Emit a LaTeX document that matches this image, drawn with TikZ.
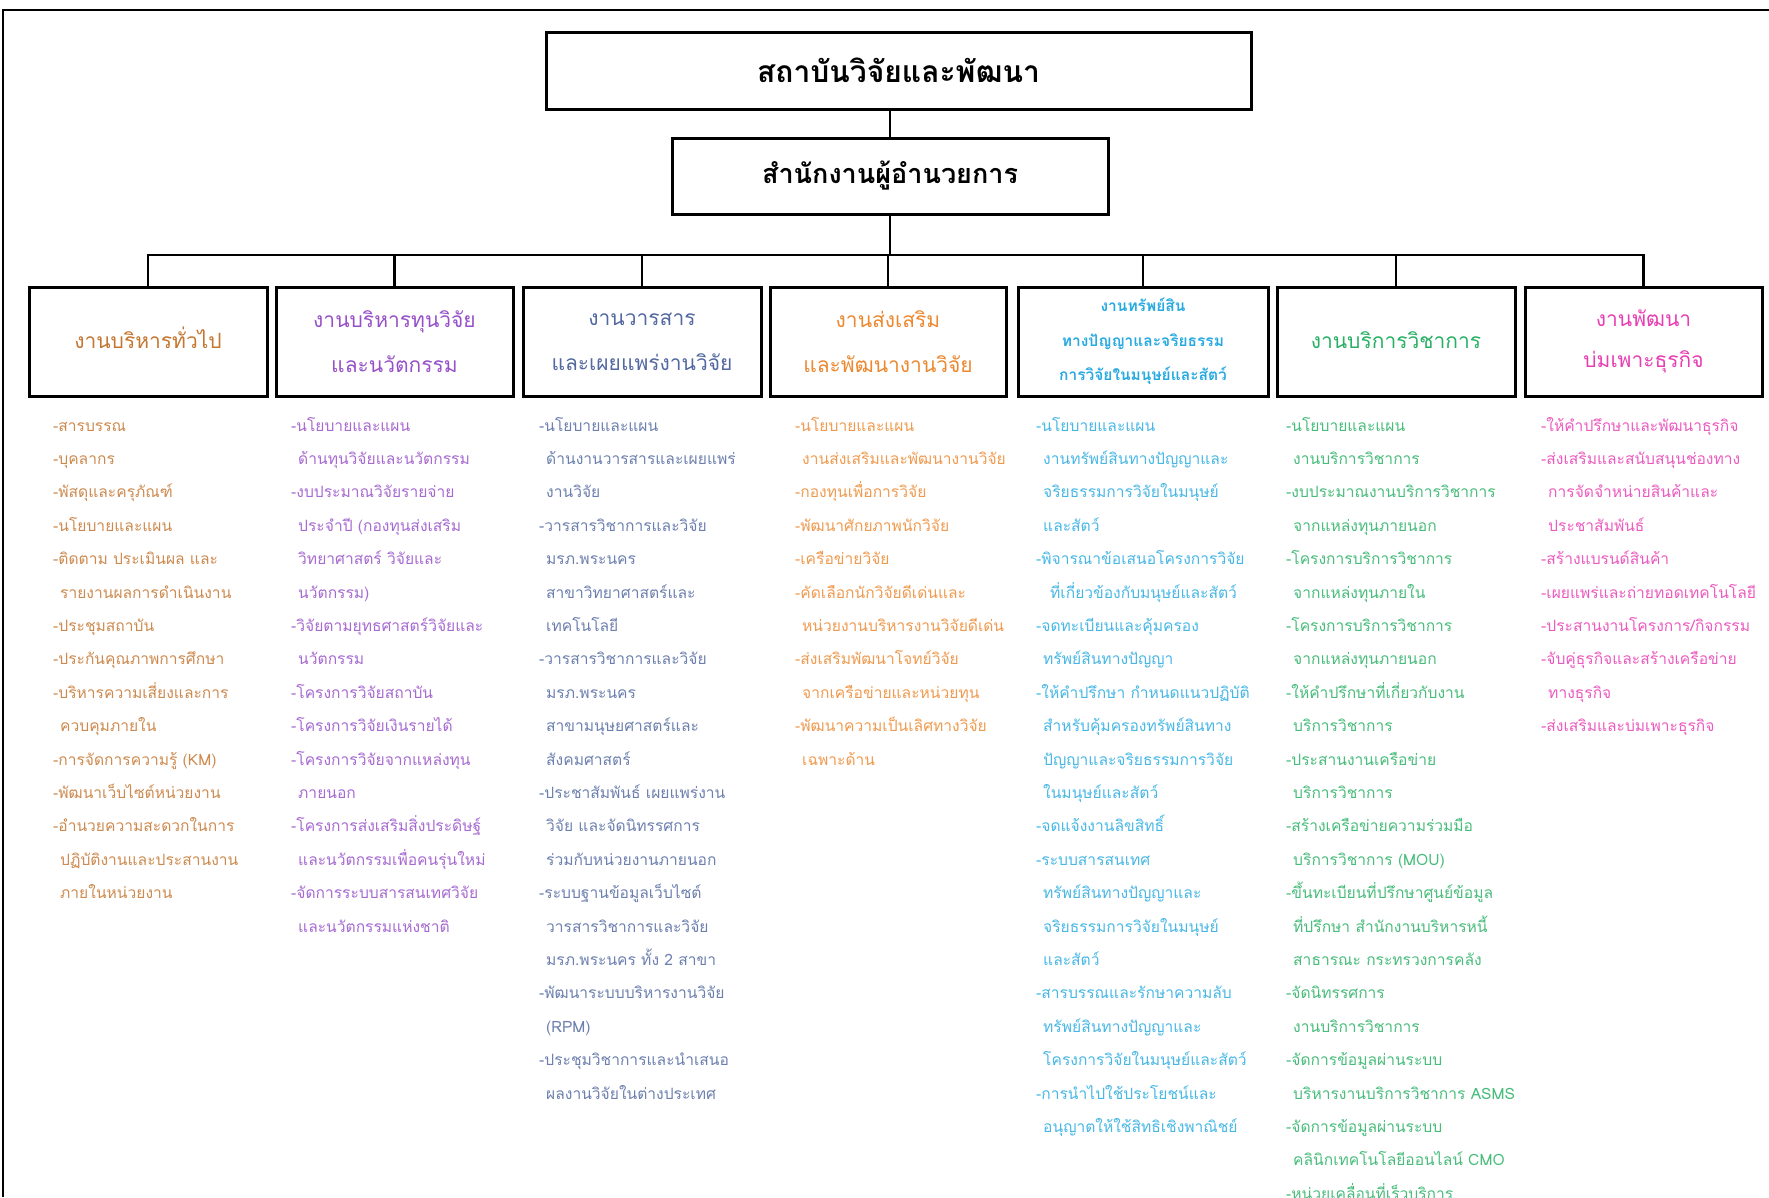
\documentclass[tikz,border=0pt]{standalone}
\usepackage{fontspec}
\setmainfont[Script=Thai]{Loma}
\definecolor{cA}{RGB}{196,118,48}
\definecolor{cB}{RGB}{150,80,200}
\definecolor{cC}{RGB}{82,104,160}
\definecolor{cD}{RGB}{236,136,48}
\definecolor{cE}{RGB}{40,170,225}
\definecolor{cF}{RGB}{40,176,100}
\definecolor{cG}{RGB}{232,62,180}
\newcommand\ind{\hspace*{7pt}}
\newcommand\itemcol[4]{%
  \foreach \t [count=\i] in {#4}
    \node[itm, text=#3] (#1-\i) at (#2, {431+(\i-1)*33.4}) {\t};}
\tikzset{
  bigbox/.style={draw=black, line width=3pt, inner sep=0pt, align=center},
  headbox/.style={draw=black, line width=3pt, inner sep=0pt, align=center,
    minimum height=109, font=\fontsize{21}{45}\selectfont},
  oneline/.style={text height=13, text depth=0},
  conn/.style={draw=black, line width=2.6pt},
  itm/.style={anchor=base west, inner sep=0pt, font=\fontsize{15.6}{20}\selectfont}
}
\begin{document}
\begin{tikzpicture}[x=1pt,y=-1pt]
\useasboundingbox (0,0) rectangle (1769,1197);
\draw[line width=2.5pt] (3,1197) -- (3,10) -- (1769,10);

\node[bigbox, minimum width=705, minimum height=77, font=\fontsize{30}{36}\selectfont\bfseries] (top) at (898.5,70.5) {สถาบันวิจัยและพัฒนา};
\node[bigbox, minimum width=436, minimum height=76, font=\fontsize{27}{32}\selectfont\bfseries] (office) at (890,176) {สำนักงานผู้อำนวยการ};

\node[headbox, oneline, minimum width=238, text=cA] (h1) at (148,341.5) {งานบริหารทั่วไป};
\node[headbox, minimum width=237, text=cB] (h2) at (394.5,341.5) {งานบริหารทุนวิจัย\\และนวัตกรรม};
\node[headbox, minimum width=238, text=cC] (h3) at (642,341.5) {งานวารสาร\\และเผยแพร่งานวิจัย};
\node[headbox, minimum width=236, text=cD] (h4) at (888,341.5) {งานส่งเสริม\\และพัฒนางานวิจัย};
\node[headbox, minimum width=250, text=cE, font=\fontsize{15.5}{34.5}\selectfont\bfseries] (h5) at (1143,341.5) {งานทรัพย์สิน\\ทางปัญญาและจริยธรรม\\การวิจัยในมนุษย์และสัตว์};
\node[headbox, oneline, minimum width=238, text=cF] (h6) at (1396,341.5) {งานบริการวิชาการ};
\node[headbox, minimum width=237, text=cG, font=\fontsize{21}{41}\selectfont] (h7) at (1643.5,341.5) {งานพัฒนา\\บ่มเพาะธุรกิจ};

\coordinate (bar) at (0,255);
\draw[conn] (top.south -| office.north) -- (office.north);
\draw[conn] (office.south) -- (office.south |- bar);
\draw[conn] (h1.north) |- (h7.north |- bar) -- (h7.north);
\foreach \k in {2,3,4,5,6} \draw[conn] (h\k.north) -- (h\k.north |- bar);

\itemcol{a}{53}{cA!85}{{-สารบรรณ},{-บุคลากร},{-พัสดุและครุภัณฑ์},{-นโยบายและแผน},{-ติดตาม ประเมินผล และ},{\ind รายงานผลการดำเนินงาน},{-ประชุมสถาบัน},{-ประกันคุณภาพการศึกษา},{-บริหารความเสี่ยงและการ},{\ind ควบคุมภายใน},{-การจัดการความรู้ (KM)},{-พัฒนาเว็บไซต์หน่วยงาน},{-อำนวยความสะดวกในการ},{\ind ปฏิบัติงานและประสานงาน},{\ind ภายในหน่วยงาน}}

\itemcol{b}{291}{cB!85}{{-นโยบายและแผน},{\ind ด้านทุนวิจัยและนวัตกรรม},{-งบประมาณวิจัยรายจ่าย},{\ind ประจำปี (กองทุนส่งเสริม},{\ind วิทยาศาสตร์ วิจัยและ},{\ind นวัตกรรม)},{-วิจัยตามยุทธศาสตร์วิจัยและ},{\ind นวัตกรรม},{-โครงการวิจัยสถาบัน},{-โครงการวิจัยเงินรายได้},{-โครงการวิจัยจากแหล่งทุน},{\ind ภายนอก},{-โครงการส่งเสริมสิ่งประดิษฐ์},{\ind และนวัตกรรมเพื่อคนรุ่นใหม่},{-จัดการระบบสารสนเทศวิจัย},{\ind และนวัตกรรมแห่งชาติ}}

\itemcol{c}{539}{cC!85}{{-นโยบายและแผน},{\ind ด้านงานวารสารและเผยแพร่},{\ind งานวิจัย},{-วารสารวิชาการและวิจัย},{\ind มรภ.พระนคร},{\ind สาขาวิทยาศาสตร์และ},{\ind เทคโนโลยี},{-วารสารวิชาการและวิจัย},{\ind มรภ.พระนคร},{\ind สาขามนุษยศาสตร์และ},{\ind สังคมศาสตร์},{-ประชาสัมพันธ์ เผยแพร่งาน},{\ind วิจัย และจัดนิทรรศการ},{\ind ร่วมกับหน่วยงานภายนอก},{-ระบบฐานข้อมูลเว็บไซต์},{\ind วารสารวิชาการและวิจัย},{\ind มรภ.พระนคร ทั้ง 2 สาขา},{-พัฒนาระบบบริหารงานวิจัย},{\ind (RPM)},{-ประชุมวิชาการและนำเสนอ},{\ind ผลงานวิจัยในต่างประเทศ}}

\itemcol{d}{795}{cD!85}{{-นโยบายและแผน},{\ind งานส่งเสริมและพัฒนางานวิจัย},{-กองทุนเพื่อการวิจัย},{-พัฒนาศักยภาพนักวิจัย},{-เครือข่ายวิจัย},{-คัดเลือกนักวิจัยดีเด่นและ},{\ind หน่วยงานบริหารงานวิจัยดีเด่น},{-ส่งเสริมพัฒนาโจทย์วิจัย},{\ind จากเครือข่ายและหน่วยทุน},{-พัฒนาความเป็นเลิศทางวิจัย},{\ind เฉพาะด้าน}}

\itemcol{e}{1036}{cE!85}{{-นโยบายและแผน},{\ind งานทรัพย์สินทางปัญญาและ},{\ind จริยธรรมการวิจัยในมนุษย์},{\ind และสัตว์},{-พิจารณาข้อเสนอโครงการวิจัย},{\ind\ind ที่เกี่ยวข้องกับมนุษย์และสัตว์},{-จดทะเบียนและคุ้มครอง},{\ind ทรัพย์สินทางปัญญา},{-ให้คำปรึกษา กำหนดแนวปฏิบัติ},{\ind สำหรับคุ้มครองทรัพย์สินทาง},{\ind ปัญญาและจริยธรรมการวิจัย},{\ind ในมนุษย์และสัตว์},{-จดแจ้งงานลิขสิทธิ์},{-ระบบสารสนเทศ},{\ind ทรัพย์สินทางปัญญาและ},{\ind จริยธรรมการวิจัยในมนุษย์},{\ind และสัตว์},{-สารบรรณและรักษาความลับ},{\ind ทรัพย์สินทางปัญญาและ},{\ind โครงการวิจัยในมนุษย์และสัตว์},{-การนำไปใช้ประโยชน์และ},{\ind อนุญาตให้ใช้สิทธิเชิงพาณิชย์}}

\itemcol{f}{1286}{cF!85}{{-นโยบายและแผน},{\ind งานบริการวิชาการ},{-งบประมาณงานบริการวิชาการ},{\ind จากแหล่งทุนภายนอก},{-โครงการบริการวิชาการ},{\ind จากแหล่งทุนภายใน},{-โครงการบริการวิชาการ},{\ind จากแหล่งทุนภายนอก},{-ให้คำปรึกษาที่เกี่ยวกับงาน},{\ind บริการวิชาการ},{-ประสานงานเครือข่าย},{\ind บริการวิชาการ},{-สร้างเครือข่ายความร่วมมือ},{\ind บริการวิชาการ (MOU)},{-ขึ้นทะเบียนที่ปรึกษาศูนย์ข้อมูล},{\ind ที่ปรึกษา สำนักงานบริหารหนี้},{\ind สาธารณะ กระทรวงการคลัง},{-จัดนิทรรศการ},{\ind งานบริการวิชาการ},{-จัดการข้อมูลผ่านระบบ},{\ind บริหารงานบริการวิชาการ ASMS},{-จัดการข้อมูลผ่านระบบ},{\ind คลินิกเทคโนโลยีออนไลน์ CMO},{-หน่วยเคลื่อนที่เร็วบริการ}}

\itemcol{g}{1541}{cG!85}{{-ให้คำปรึกษาและพัฒนาธุรกิจ},{-ส่งเสริมและสนับสนุนช่องทาง},{\ind การจัดจำหน่ายสินค้าและ},{\ind ประชาสัมพันธ์},{-สร้างแบรนด์สินค้า},{-เผยแพร่และถ่ายทอดเทคโนโลยี},{-ประสานงานโครงการ/กิจกรรม},{-จับคู่ธุรกิจและสร้างเครือข่าย},{\ind ทางธุรกิจ},{-ส่งเสริมและบ่มเพาะธุรกิจ}}
\end{tikzpicture}
\end{document}
